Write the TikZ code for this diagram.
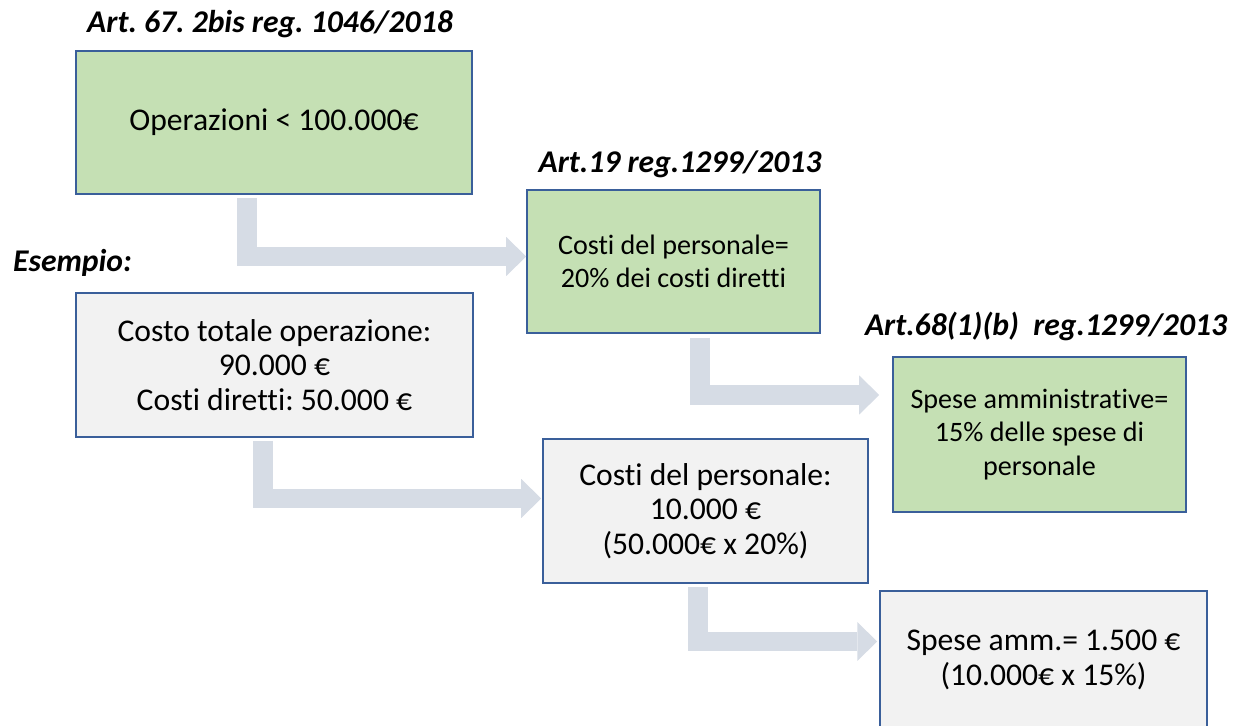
\documentclass[tikz,border=0pt]{standalone}
\usepackage{fontspec}
\setmainfont{Carlito}[Ligatures={NoCommon}]
\usetikzlibrary{arrows.meta,calc}
\frenchspacing

\definecolor{normgreen}{HTML}{C5E0B4}
\definecolor{examplegray}{HTML}{F2F2F2}
\definecolor{boxborder}{HTML}{3A5F9A}
\definecolor{flowgray}{HTML}{D6DCE5}

\tikzset{
  normbox/.style={draw=boxborder, line width=0.9pt, fill=normgreen, align=center},
  examplebox/.style={draw=boxborder, line width=0.9pt, fill=examplegray, align=center},
  bigtext/.style={font=\fontsize{18}{19.5}\selectfont},
  smalltext/.style={font=\fontsize{16}{19}\selectfont},
  reftitle/.style={anchor=base, font=\fontsize{18}{20}\selectfont\bfseries\itshape},
  flowarrow/.style={draw=flowgray, line width=0.4cm,
    -{Triangle[length=0.4cm, width=0.78cm, line width=0pt]}}
}

\begin{document}
\begin{tikzpicture}[x=0.02cm, y=-0.02cm]
    \useasboundingbox (0,0) rectangle (1235,726);

    % --- NORMS (GREEN) ---
    \node[reftitle] (titleA) at (270, 33) {Art. 67. 2bis reg. 1046/2018};
    \node[normbox, bigtext, minimum width=7.92cm, minimum height=2.86cm]
        (soglia) at (274, 122.5) {Operazioni < 100.000€};

    \node[reftitle] (titleB) at (680, 173) {Art.19 reg.1299/2013};
    \node[normbox, smalltext, minimum width=5.86cm, minimum height=2.86cm]
        (personale) at (673.5, 261.5) {Costi del personale=\\20\% dei costi diretti};

    \node[reftitle] (titleC) at (1046, 336) {Art.68(1)(b)\ \ reg.1299/2013};
    \node[normbox, smalltext, minimum width=5.86cm, minimum height=3.1cm]
        (ammin) at (1039.5, 434.5) {Spese amministrative=\\15\% delle spese di\\personale};

    % --- EXAMPLE (GRAY) ---
    \node[reftitle] (esempio) at (72.5, 272) {Esempio:};
    \node[examplebox, bigtext, minimum width=7.94cm, minimum height=2.88cm]
        (totale) at (274.5, 365) {Costo totale operazione:\\90.000 €\\Costi diretti: 50.000 €};

    \node[examplebox, bigtext, minimum width=6.5cm, minimum height=2.88cm]
        (calcpers) at (705.5, 511) {Costi del personale:\\10.000 €\\(50.000€ x 20\%)};

    \node[examplebox, bigtext, minimum width=6.54cm, minimum height=2.76cm]
        (calcamm) at (1043.5, 660) {Spese amm.= 1.500 €\\(10.000€ x 15\%)};

    % --- BENT ARROWS ---
    \draw[flowarrow] ($(soglia.south west)+(172,3)$) |- ($(personale.west)+(0,-5)$);
    \draw[flowarrow] ($(personale.south west)+(173.5,4)$) |- ($(ammin.west)+(-13,-39.5)$);
    \draw[flowarrow] ($(totale.south west)+(187.5,3)$) |- ($(calcpers.west)+(-1,-12.5)$);
    \draw[flowarrow] ($(calcpers.south west)+(156,3)$) |- ($(calcamm.west)+(-2,-18.5)$);
\end{tikzpicture}
\end{document}
